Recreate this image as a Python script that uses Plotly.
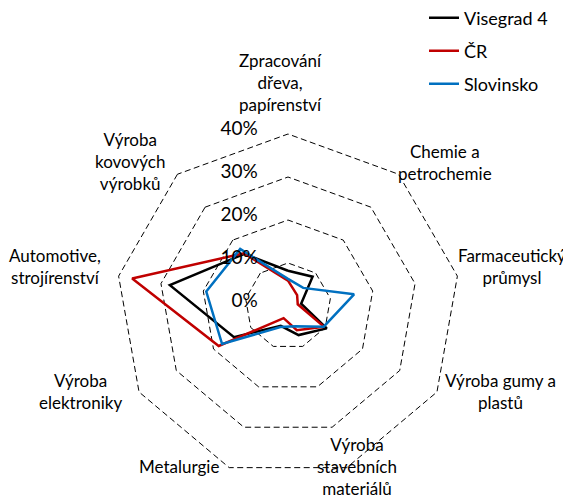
import plotly.graph_objects as go

categories = ["Zpracování dřeva, papírenství", "Chemie a petrochemie", "Farmaceutický průmysl",
              "Výroba gumy a plastů", "Výroba stavebních materiálů", "Metalurgie",
              "Výroba elektroniky", "Automotive, strojírenství", "Výroba kovových výrobků"]
category_labels = ["Zpracování<br>dřeva,<br>papírenství", "Chemie a<br>petrochemie", "Farmaceutický<br>průmysl",
                   "Výroba gumy a<br>plastů", "Výroba<br>stavebních<br>materiálů", "Metalurgie",
                   "Výroba<br>elektroniky", "Automotive,<br>strojírenství", "Výroba<br>kovových<br>výrobků"]
# label anchor points (pixels from top-left of the 571x501 canvas)
label_pos = [(272, 75), (437, 155), (504, 258), (492, 383), (349, 458),
             (171, 458), (72, 383), (47, 258), (122, 153)]

v4 = [8.2, 8.9, 3.1, 10.4, 7.2, 4.9, 14.5, 27.9, 15.8]
cr = [5.9, 3.3, 2.3, 9.7, 6.0, 3.0, 18.6, 36.8, 16.0]
si = [6.3, 5.5, 15.6, 9.6, 5.0, 5.2, 17.7, 19.3, 17.3]

series = [("Visegrad 4", v4, "#000000", "legend"),
          ("ČR", cr, "#C00000", "legend2"),
          ("Slovinsko", si, "#0070C0", "legend3")]
legend_y = [10, 43, 76]

radial_ticks = [0, 10, 20, 30, 40]
R_MAX = 40.5          # grid polar range (so that the 40 % ring is drawn)
R_MAX_LBL = 45        # label polar range
LBL_SHIFT = 1.15      # lift of the % labels, in axis units

FONT = "Lato"
W, H = 571, 501
CX, CY, R40 = 280, 298, 172
R = R40 * R_MAX / 40
R2 = R40 * R_MAX_LBL / 40

fig = go.Figure()
for name, vals, color, lg in series:
    fig.add_trace(go.Scatterpolar(
        r=vals + vals[:1], theta=categories + categories[:1],
        mode="lines", name=name, line=dict(color=color, width=2.5),
        legend=lg, showlegend=True,
    ))
# carrier for the overlaid label-only polar axis (draws nothing)
fig.add_trace(go.Scatterpolar(r=[0], theta=categories[:1], mode="lines", subplot="polar2",
                              showlegend=False, hoverinfo="skip", line=dict(width=0)))

leg_common = dict(font=dict(family=FONT, size=18, color="#000"), bgcolor="rgba(0,0,0,0)",
                  xanchor="left", yanchor="middle", x=416 / W)
legends = {}
for (name, _, _, lg), ly in zip(series, legend_y):
    legends[lg] = dict(**leg_common, y=1 - ly / H)

annotations = [
    dict(text=t, x=px / W, y=1 - py / H, xref="paper", yref="paper",
         xanchor="center", yanchor="middle", showarrow=False, align="center",
         font=dict(family=FONT, size=17, color="#000"))
    for t, (px, py) in zip(category_labels, label_pos)
]

fig.update_layout(
    width=W, height=H, showlegend=True,
    margin=dict(l=0, r=0, t=0, b=0, autoexpand=False),
    paper_bgcolor="white", plot_bgcolor="white",
    font=dict(family=FONT, size=15, color="#000"),
    annotations=annotations,
    polar=dict(
        domain=dict(x=[(CX - R) / W, (CX + R) / W],
                    y=[(H - CY - R) / H, (H - CY + R) / H]),
        bgcolor="white",
        gridshape="linear",
        radialaxis=dict(range=[0, R_MAX], tickvals=radial_ticks,
                        showticklabels=False, angle=90,
                        showline=False, ticks="",
                        gridcolor="#000", griddash="6px,3.5px", gridwidth=1),
        angularaxis=dict(direction="clockwise", rotation=90,
                         showticklabels=False,
                         showgrid=False, showline=False, ticks=""),
    ),
    polar2=dict(
        domain=dict(x=[(CX - R2) / W, (CX + R2) / W],
                    y=[(H - CY - R2) / H, (H - CY + R2) / H]),
        bgcolor="rgba(0,0,0,0)",
        gridshape="linear",
        radialaxis=dict(range=[0, R_MAX_LBL], tickvals=[t + LBL_SHIFT for t in radial_ticks],
                        ticktext=[f"{t}%" for t in radial_ticks],
                        angle=90, tickangle=90, side="counterclockwise",
                        showline=False, showgrid=False, ticks="outside", ticklen=23,
                        tickcolor="rgba(0,0,0,0)",
                        tickfont=dict(family=FONT, size=19, color="#000")),
        angularaxis=dict(direction="clockwise", rotation=90,
                         showticklabels=False,
                         showgrid=False, showline=False, ticks=""),
    ),
    **legends,
)

fig.write_html("out.html")
